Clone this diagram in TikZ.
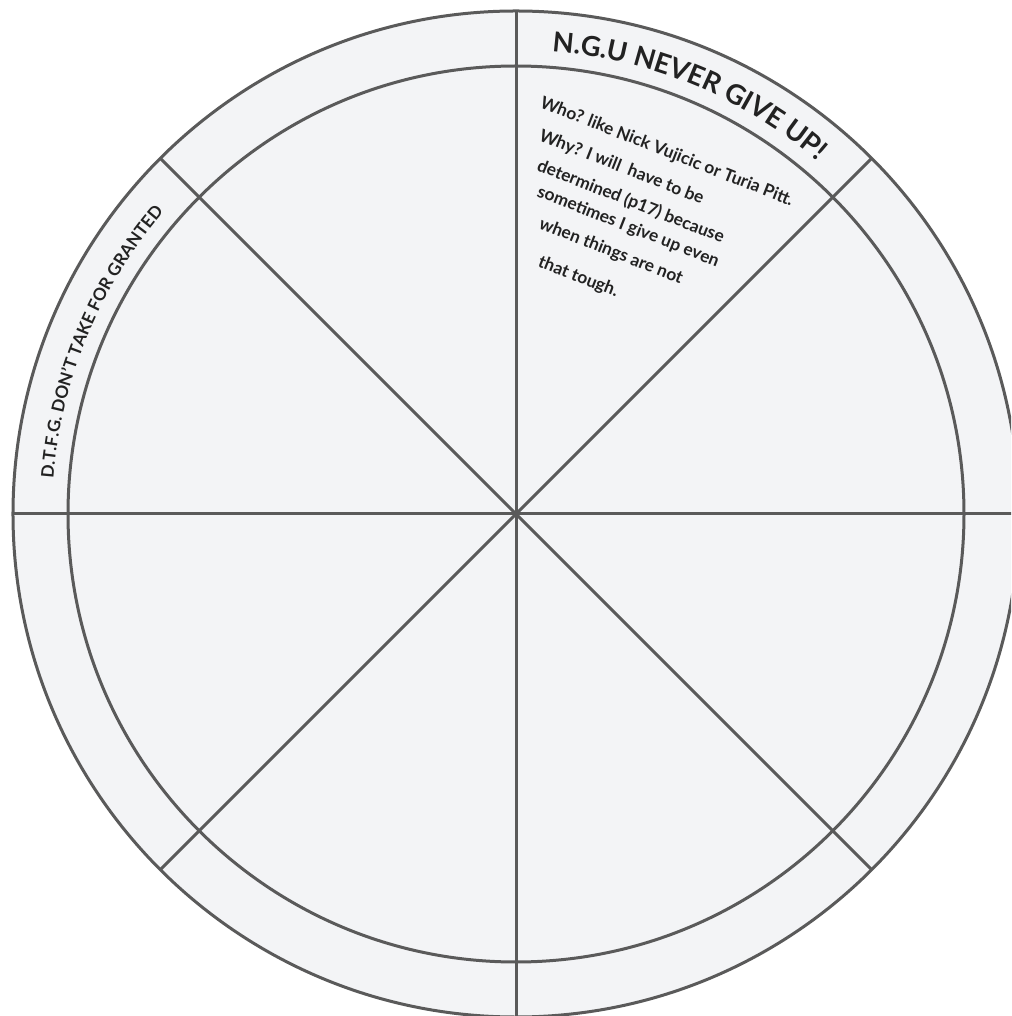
\documentclass[tikz,border=0pt]{standalone}
\usepackage{fontspec}
\setmainfont{Lato}
\usepackage{tikz}
\usetikzlibrary{decorations.text}

\definecolor{wheelfill}{HTML}{F3F4F6}
\definecolor{wheelline}{HTML}{5A5A5A}
\definecolor{wheelink}{HTML}{222222}

\newcommand{\rimfont}{\fontsize{27.5}{32}\selectfont\bfseries}
\newcommand{\sidefont}{\fontsize{17.2}{21}\selectfont\bfseries}

\tikzstyle{rim} = [draw=wheelline, line width=3pt]
\tikzstyle{spoke} = [draw=wheelline, line width=3pt]
\tikzstyle{note} = [anchor=base west, inner sep=0pt, rotate=-21.5, font=\fontsize{17.3}{20}\selectfont\bfseries, text=wheelink]
\tikzstyle{rimtext} = [decorate, decoration={text along path, text align=center, text color=wheelink}]

\begin{document}
\begin{tikzpicture}[x=1pt, y=1pt]
    \useasboundingbox (-516,-502) rectangle (495,514);
    \clip (-516,-502) rectangle (495,514);

    % wheel
    \coordinate (hub) at (0,0);
    \fill[wheelfill] (hub) circle[radius=503pt];
    \foreach \a in {0,45,...,315} {
        \coordinate (tip\a) at (\a:503pt);
        \draw[spoke] (hub) -- (tip\a);
    }
    \draw[rim] (hub) circle[radius=448pt];
    \draw[rim] (hub) circle[radius=503pt];

    % ring labels
    \path[rimtext, decoration={text={|\rimfont|N.G.U NEVER GIVE UP!}}]
        (90:464pt) arc[start angle=90, end angle=45, radius=464pt];
    \path[rimtext, decoration={text={|\sidefont|D.T.F.G. DON’T TAKE FOR GRANTED}}]
        (180:464pt) arc[start angle=180, end angle=135, radius=464pt];

    % notes in the top segment
    \node (who) [note] at (23,407) {Who? like Nick Vujicic or Turia Pitt.};
    \node (why) [note] at (22,374) {Why? I will\ \ have to be};
    \node (det) [note] at (20,344) {determined (p17) because};
    \node (some) [note] at (20,318) {sometimes I give up even};
    \node (when) [note] at (22,286) {when things are not};
    \node (that) [note] at (21,248) {that tough.};
\end{tikzpicture}
\end{document}
